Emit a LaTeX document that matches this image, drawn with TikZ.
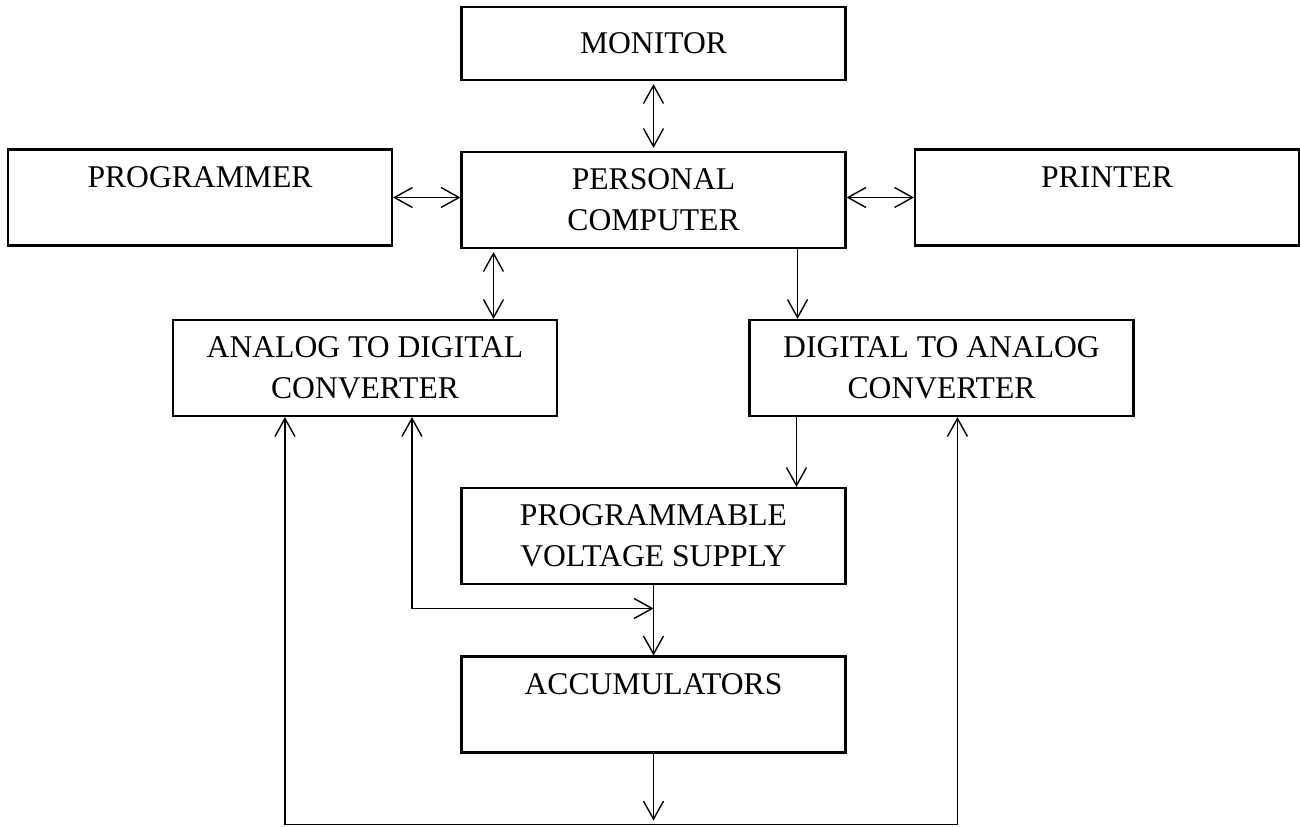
\documentclass[tikz,border=0pt]{standalone}
\usepackage{fontspec}
\setmainfont{Liberation Serif}
\usetikzlibrary{arrows.meta, calc}
\begin{document}
\begin{tikzpicture}[x = 0.02cm, y = -0.02cm,
    unit/.style = {draw, line width = 1.2pt, minimum width = 7.68cm,
        minimum height = 1.92cm, align = center, inner sep = 0pt,
        font = \fontsize{18}{23.3}\selectfont},
    link/.style = {line width = 0.8pt},
    >={Straight Barb[length = 3.6mm, width = 4mm, line width = 0.8pt]}]
            \useasboundingbox (0, 0) rectangle (1300, 827);
            \node [unit, minimum height = 1.46cm] (monitor) at (653.5, 43.5) {MONITOR};
            \node [unit] (pc) at (653.5, 200) {PERSONAL\\COMPUTER};
            \node [unit] (prog) at (200, 197.5) {PROGRAMMER\\~};
            \node [unit] (printer) at (1107, 197.5) {PRINTER\\~};
            \node [unit] (adc) at (365, 368) {ANALOG TO DIGITAL\\CONVERTER};
            \node [unit] (dac) at (941.5, 368) {DIGITAL TO ANALOG\\CONVERTER};
            \node [unit] (pvs) at (653.5, 536) {PROGRAMMABLE\\VOLTAGE SUPPLY};
            \node [unit] (acc) at (653.5, 704.5) {ACCUMULATORS\\~};
            \coordinate (join) at ($(pvs.south)!0.333!(acc.north)$);
            \coordinate (bus) at ([yshift = -1.42cm]acc.south);
            \draw [link, <->] ([yshift = -0.06cm]monitor.south) -- ([yshift = 0.06cm]pc.north);
            \draw [link, <->] (prog.east) -- (prog.east -| pc.west);
            \draw [link, <->] (printer.west -| pc.east) -- (printer.west);
            \draw [link, <->] ([xshift = 0.66cm, yshift = -0.06cm]pc.south west)
                -- ([xshift = 0.66cm]pc.south west |- adc.north);
            \draw [link, ->] ([xshift = -0.98cm]pc.south east)
                -- ([xshift = -0.98cm]pc.south east |- dac.north);
            \draw [link, ->] ([xshift = 0.96cm]dac.south west)
                -- ([xshift = 0.96cm]dac.south west |- pvs.north);
            \draw [link, ->] (pvs.south) -- (acc.north);
            \draw [link, <->] ([xshift = 4.8cm]adc.south west) |- (join);
            \draw [link, ->] (acc.south) -- ([yshift = 0.08cm]bus);
            \draw [link, <->] ([xshift = 2.26cm]adc.south west) |- (bus)
                -| ([xshift = 4.18cm]dac.south west);
        \end{tikzpicture}
\end{document}
